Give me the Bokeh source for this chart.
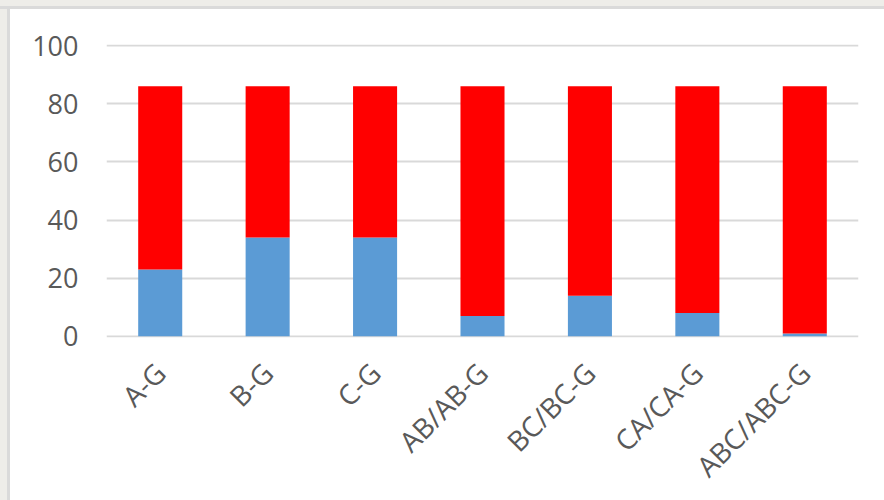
from bokeh.plotting import figure
from bokeh.models import ColumnDataSource, FactorRange, Range1d, Div, FixedTicker
from bokeh.layouts import column, row
from bokeh.embed import file_html
from bokeh.resources import INLINE
import math

categories = ["A-G", "B-G", "C-G", "AB/AB-G", "BC/BC-G", "CA/CA-G", "ABC/ABC-G"]
blue_vals = [23, 34, 34, 7, 14, 8, 1]
red_vals = [63, 52, 52, 79, 72, 78, 85]
y_ticks = [0, 20, 40, 60, 80, 100]

src = ColumnDataSource(dict(cat=categories, blue=blue_vals, red=red_vals))

p = figure(x_range=FactorRange(*categories, range_padding=0), y_range=Range1d(-0.4, 100.4),
           width=874, height=491, output_backend="svg", toolbar_location=None,
           min_border_left=96, min_border_right=26, min_border_top=35, min_border_bottom=162)
p.x_range.factor_padding = 0
p.vbar_stack(["blue", "red"], x="cat", width=0.41, source=src,
             color=["#5B9BD5", "#FF0000"], line_color=None)

p.outline_line_color = None
p.background_fill_color = "white"
p.border_fill_color = "white"
p.xgrid.grid_line_color = None
p.ygrid.grid_line_color = "#D9D9D9"
p.ygrid.grid_line_width = 2
p.yaxis.ticker = FixedTicker(ticks=y_ticks)
p.yaxis.axis_line_color = None
p.yaxis.major_tick_line_color = None
p.yaxis.minor_tick_line_color = None
p.yaxis.major_label_standoff = 22
p.yaxis.major_label_text_font_size = "27px"
p.xaxis.axis_line_color = None
p.xaxis.major_tick_line_color = None
p.xaxis.major_label_standoff = 24
p.xaxis.major_label_orientation = math.pi / 4
p.xaxis.major_label_text_font_size = "28px"
for ax in (p.xaxis, p.yaxis):
    ax.major_label_text_font = "Open Sans"
    ax.major_label_text_color = "#595959"

top = Div(width=884, height=9, margin=0,
          styles={"background-color": "#EEEDE9", "border-bottom": "3px solid #DADADA", "box-sizing": "border-box"})
left = Div(width=10, height=491, margin=0,
           styles={"background-color": "#EEEDE9", "border-right": "3px solid #DADADA", "box-sizing": "border-box"})
layout = column(top, row(left, p, spacing=0), spacing=0)

open("out.html", "w").write(file_html(layout, INLINE))
